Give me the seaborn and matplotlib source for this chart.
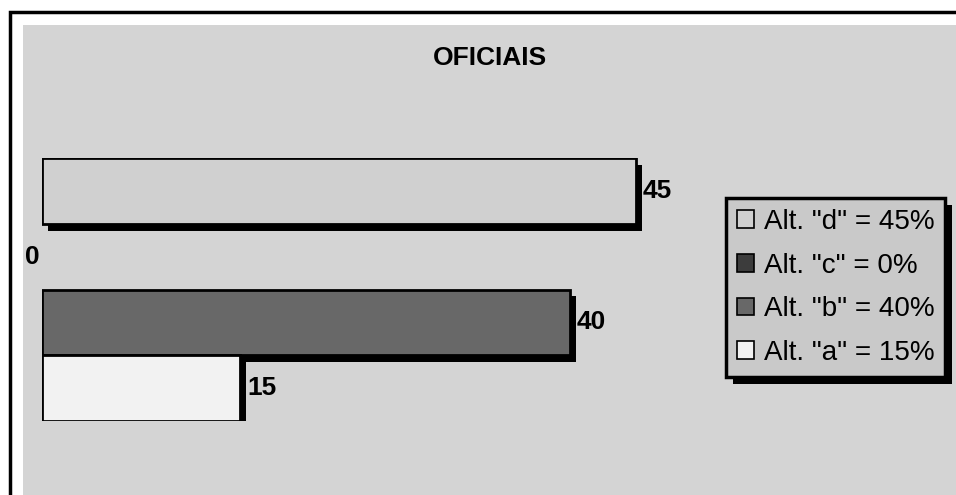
import matplotlib
matplotlib.use('Agg')
import matplotlib.pyplot as plt
import matplotlib.patheffects as pe
from matplotlib.patches import Rectangle, Patch
import pandas as pd
import seaborn as sns

# datos
alternativas = ['d', 'c', 'b', 'a']
valores = [45, 0, 40, 15]
colores = ['#d0d0d0', '#3c3c3c', '#686868', '#f2f2f2']
titulo = 'OFICIAIS'

df = pd.DataFrame({'alt': alternativas, 'valor': valores})

sns.set_style('white')
plt.rcParams['font.family'] = ['Liberation Sans', 'DejaVu Sans']
plt.rcParams['text.color'] = 'black'

fig = plt.figure(figsize=(9.56, 4.95), dpi=100)
fig.patch.set_facecolor('white')

# marco exterior (sigue fuera de la imagen a derecha y abajo)
fig.patches.append(Rectangle((10/956, -0.1), 1.0, (495-12)/495 + 0.1, transform=fig.transFigure,
                             facecolor='white', edgecolor='black', linewidth=2.5, zorder=-2))
fig.patches.append(Rectangle((23/956, -0.1), 1.0, (495-25)/495 + 0.1, transform=fig.transFigure,
                             facecolor='#d4d4d4', edgecolor='none', zorder=-1))

ax = fig.add_axes([42/956, (495-421)/495, 660/956, 263/495])
ax.set_facecolor('none')

sombra = [pe.SimplePatchShadow(offset=(4.5, -5), shadow_rgbFace='black', alpha=1), pe.Normal()]

sns.barplot(data=df, y='alt', x='valor', hue='alt', order=alternativas,
            palette=dict(zip(alternativas, colores)), width=1.0, dodge=False,
            legend=False, edgecolor='black', linewidth=2, ax=ax)

for barra in ax.patches:
    if barra.get_width() == 0:
        barra.set_visible(False)
    else:
        barra.set_path_effects(sombra)

ax.set_xlim(0, 50)
ax.set_ylim(3.5, -0.5)
ax.axis('off')

# etiquetas de valor
for i, v in enumerate(valores):
    if v == 0:
        ax.annotate(str(v), xy=(0, i), xytext=(-2, 0), textcoords='offset pixels',
                    ha='right', va='center', fontsize=19, fontweight='bold', color='black')
    else:
        ax.annotate(str(v), xy=(v, i), xytext=(7, 0), textcoords='offset pixels',
                    ha='left', va='center', fontsize=19, fontweight='bold', color='black')

fig.text(490/956, 1 - 58/495, titulo, ha='center', va='center', fontsize=19,
         fontweight='bold', color='black')

# leyenda
handles = [Patch(facecolor=c, edgecolor='black', linewidth=1.2) for c in colores]
etiquetas = [f'Alt. "{a}" = {v}%' for a, v in zip(alternativas, valores)]
leg = fig.legend(handles, etiquetas, loc='upper left', bbox_to_anchor=(726/956, 1 - 198/495),
                 fontsize=20, frameon=True, fancybox=False, borderaxespad=0,
                 handlelength=0.6, handleheight=0.6, handletextpad=0.35,
                 labelspacing=0.63, borderpad=0.4, labelcolor='black')
marco = leg.get_frame()
marco.set_facecolor('#c9c9c9')
marco.set_edgecolor('black')
marco.set_linewidth(2.5)
marco.set_alpha(1)
marco.set_path_effects([pe.SimplePatchShadow(offset=(5, -5), shadow_rgbFace='black', alpha=1), pe.Normal()])

fig.savefig('out.png', dpi=100)
